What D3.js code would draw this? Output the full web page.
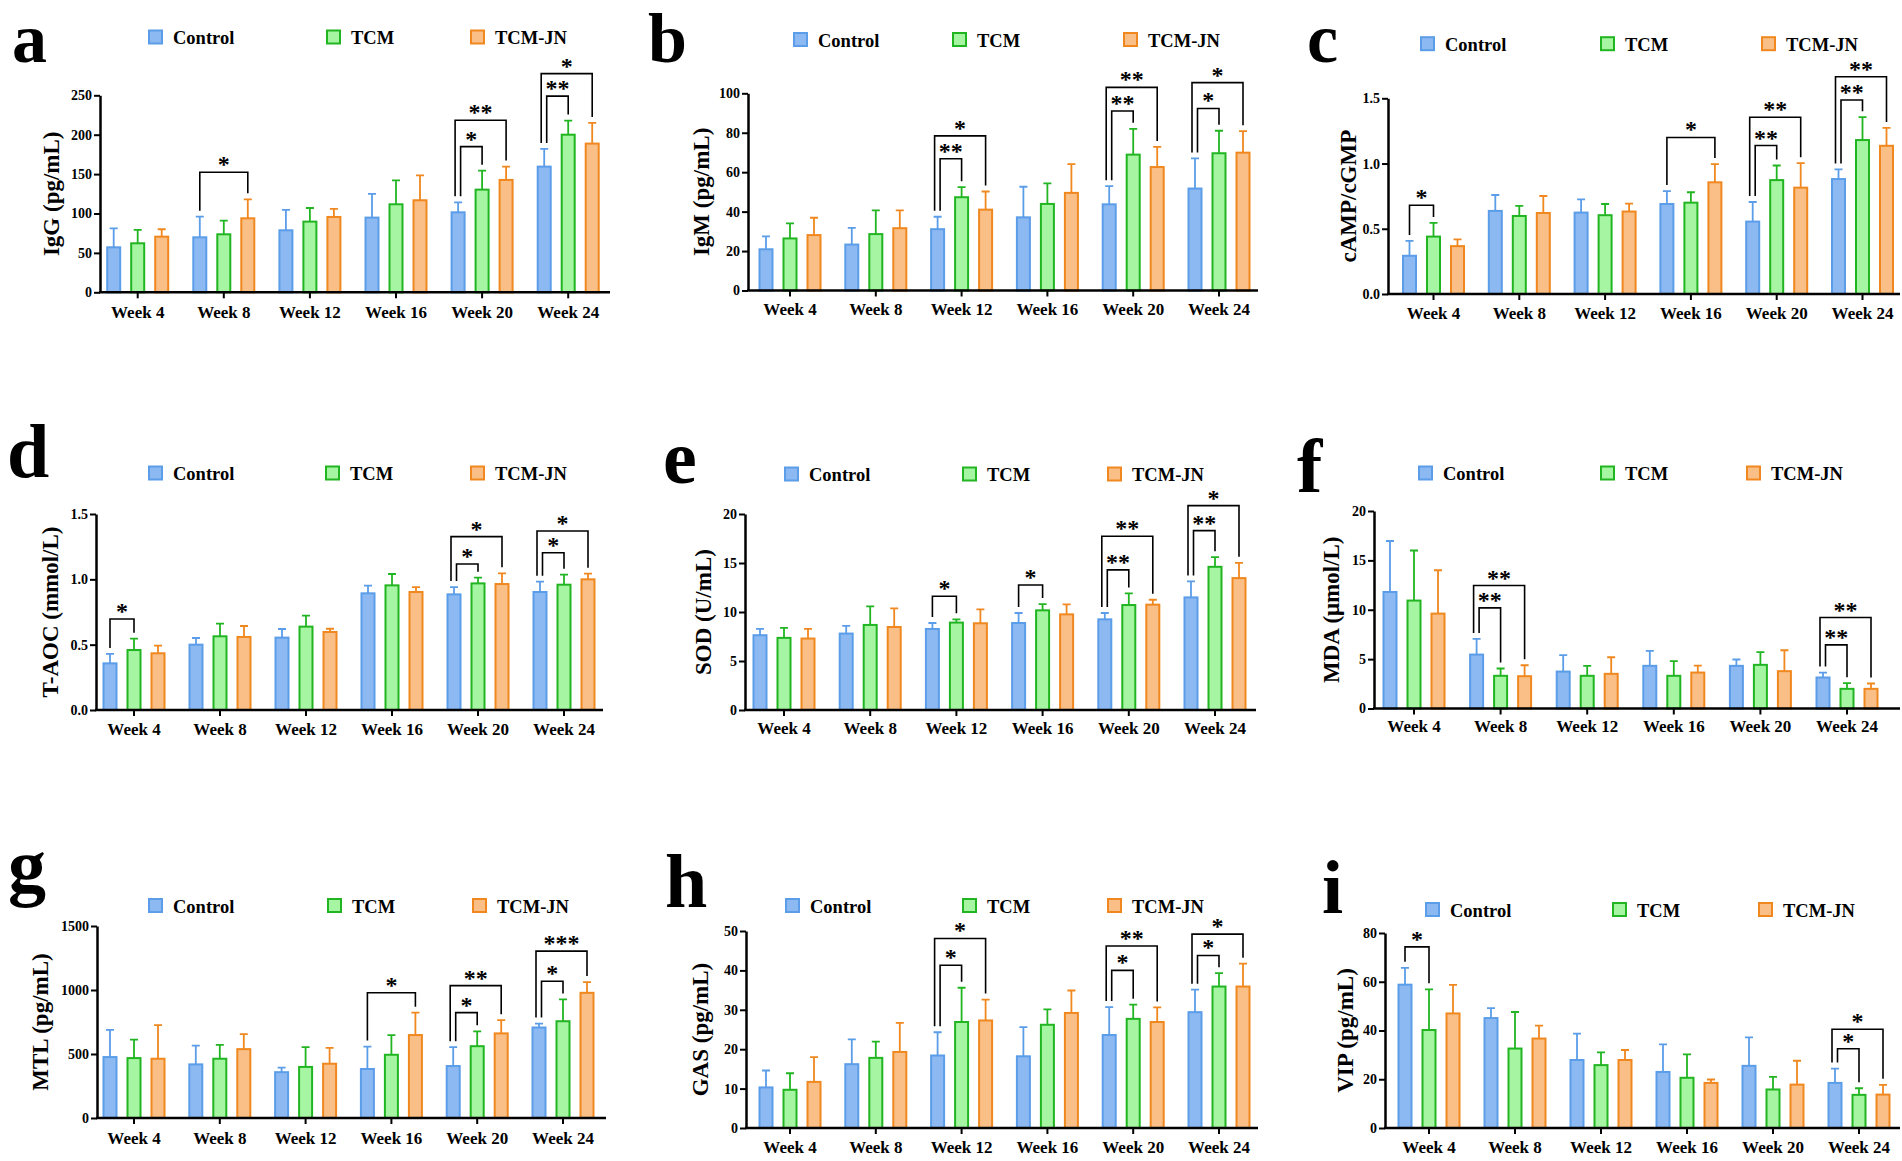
<!DOCTYPE html>
<html>
<head>
<meta charset="utf-8">
<script src="https://cdn.jsdelivr.net/npm/d3@7"></script>
<style>
  body { margin: 0; background: #fff; }
  text { font-family: 'Liberation Serif', 'Times New Roman', serif; font-weight: bold; }
</style>
</head>
<body>
<svg id="chart" width="1902" height="1161"></svg>
<script>
const weeks = ['Week 4', 'Week 8', 'Week 12', 'Week 16', 'Week 20', 'Week 24'];
const groups = ['Control', 'TCM', 'TCM-JN'];

// rows: Control, TCM, TCM-JN ; sig: [week index, compared group, label, bracket height]
const iggMean = [[57.1, 69.8, 78.7, 94.8, 101.5, 159.5], [62.2, 73.6, 89.7, 111.7, 130.3, 200.0], [70.6, 93.9, 95.6, 116.8, 142.6, 188.7]];
const iggSd = [[24.1, 26.2, 25.8, 30.0, 12.7, 22.4], [16.9, 17.3, 17.3, 30.3, 24.1, 17.9], [9.4, 24.1, 10.2, 31.7, 16.9, 26.2]];
const iggSig = [[1, 2, '*', 152.3], [4, 1, '*', 184.9], [4, 2, '**', 218.3], [5, 1, '**', 249], [5, 2, '*', 277.5]];
const iggTicks = [0, 50, 100, 150, 200, 250];

const igmMean = [[20.9, 23.3, 31.1, 37.1, 43.7, 51.7], [26.4, 28.6, 47.3, 43.9, 68.9, 69.6], [28.1, 31.6, 41.0, 49.5, 62.6, 69.9]];
const igmSd = [[6.5, 8.5, 6.3, 15.5, 9.2, 15.3], [7.6, 12.0, 5.1, 10.4, 13.1, 11.4], [8.8, 9.0, 9.2, 14.6, 10.2, 10.9]];
const igmSig = [[2, 1, '**', 66.8], [2, 2, '*', 78.4], [4, 1, '**', 91], [4, 2, '**', 103], [5, 1, '*', 92.3], [5, 2, '*', 105.4]];
const igmTicks = [0, 20, 40, 60, 80, 100];

const campMean = [[0.293, 0.637, 0.624, 0.69, 0.555, 0.881], [0.44, 0.598, 0.604, 0.70, 0.873, 1.18], [0.367, 0.621, 0.632, 0.856, 0.815, 1.136]];
const campSd = [[0.114, 0.122, 0.102, 0.099, 0.15, 0.074], [0.105, 0.077, 0.086, 0.08, 0.112, 0.175], [0.051, 0.13, 0.061, 0.14, 0.188, 0.137]];
const campSig = [[0, 1, '*', 0.68], [3, 2, '*', 1.20], [4, 1, '**', 1.138], [4, 2, '**', 1.355], [5, 1, '**', 1.487], [5, 2, '**', 1.665]];
const campTicks = [0, 0.5, 1.0, 1.5];

const taocMean = [[0.357, 0.50, 0.554, 0.893, 0.885, 0.903], [0.459, 0.564, 0.638, 0.954, 0.969, 0.959], [0.434, 0.559, 0.597, 0.903, 0.964, 1.0]];
const taocSd = [[0.072, 0.051, 0.066, 0.059, 0.056, 0.079], [0.087, 0.097, 0.084, 0.087, 0.044, 0.077], [0.058, 0.084, 0.025, 0.038, 0.082, 0.043]];
const taocSig = [[0, 1, '*', 0.696], [4, 1, '*', 1.117], [4, 2, '*', 1.327], [5, 1, '*', 1.204], [5, 2, '*', 1.37]];
const taocTicks = [0, 0.5, 1.0, 1.5];

const sodMean = [[7.63, 7.80, 8.27, 8.88, 9.25, 11.49], [7.36, 8.68, 8.92, 10.17, 10.71, 14.61], [7.29, 8.47, 8.85, 9.76, 10.75, 13.46]];
const sodSd = [[0.64, 0.78, 0.61, 1.02, 0.65, 1.63], [1.01, 1.9, 0.33, 0.64, 1.19, 0.98], [0.98, 1.9, 1.42, 1.02, 0.5, 1.56]];
const sodSig = [[2, 1, '*', 11.6], [3, 1, '*', 12.75], [4, 1, '**', 14.3], [4, 2, '**', 17.73], [5, 1, '**', 18.3], [5, 2, '*', 20.85]];
const sodTicks = [0, 5, 10, 15, 20];

const mdaMean = [[11.8, 5.46, 3.74, 4.32, 4.32, 3.14], [10.93, 3.31, 3.31, 3.31, 4.42, 1.99], [9.61, 3.27, 3.51, 3.64, 3.78, 1.99]];
const mdaSd = [[5.16, 1.59, 1.66, 1.51, 0.64, 0.5], [5.07, 0.74, 1.01, 1.48, 1.28, 0.57], [4.39, 1.11, 1.68, 0.71, 2.12, 0.54]];
const mdaSig = [[1, 1, '**', 10.19], [1, 2, '**', 12.45], [5, 1, '**', 6.44], [5, 2, '**', 9.21]];
const mdaTicks = [0, 5, 10, 15, 20];

const mtlMean = [[476, 419, 358, 383, 406, 707], [468, 463, 399, 494, 561, 756], [463, 538, 424, 648, 661, 978]];
const mtlSd = [[213, 147, 36, 175, 147, 31], [144, 108, 154, 154, 116, 170], [262, 118, 124, 175, 103, 84]];
const mtlSig = [[3, 2, '*', 978], [4, 1, '*', 823], [4, 2, '**', 1034], [5, 1, '*', 1068], [5, 2, '***', 1304]];
const mtlTicks = [0, 500, 1000, 1500];

const gasMean = [[10.3, 16.2, 18.4, 18.2, 23.6, 29.4], [9.7, 17.8, 26.9, 26.2, 27.7, 35.9], [11.7, 19.3, 27.3, 29.2, 26.9, 35.9]];
const gasSd = [[4.3, 6.3, 5.9, 7.4, 7.1, 5.7], [4.2, 4.1, 8.7, 3.9, 3.6, 3.4], [6.3, 7.4, 5.3, 5.7, 3.7, 5.8]];
const gasSig = [[2, 1, '*', 41.3], [2, 2, '*', 48.1], [4, 1, '*', 40.0], [4, 2, '**', 46.2], [5, 1, '*', 43.8], [5, 2, '*', 49.2]];
const gasTicks = [0, 10, 20, 30, 40, 50];

const vipMean = [[58.8, 45.1, 27.9, 23.0, 25.5, 18.5], [40.2, 32.6, 25.8, 20.6, 15.8, 13.6], [47.0, 36.7, 27.9, 18.5, 17.8, 13.7]];
const vipSd = [[6.9, 4.1, 10.8, 11.3, 11.7, 5.9], [16.7, 15.0, 5.2, 9.6, 5.2, 2.7], [11.7, 5.3, 4.1, 1.4, 9.8, 4.0]];
const vipSig = [[0, 1, '*', 74.3], [5, 1, '*', 32.5], [5, 2, '*', 40.5]];
const vipTicks = [0, 20, 40, 60, 80];

const groupFill = ['#8cb9f2', '#a6f5a2', '#f9bf86'];
const groupStroke = ['#5b9de8', '#22b522', '#f0881f'];

class BarPanel {

    constructor(_config, _data) {
        this.config = _config;
        this.data = _data;
        this.initVis();
    }

    initVis() {
        let vis = this;
        const c = vis.config;

        vis.g = d3.select('#chart').append('g').attr('class', 'panel');

        vis.xScale = d3.scaleBand()
            .domain(weeks)
            .range([c.c0 - c.step / 2, c.c0 + c.step * 5.5]);

        // three bars inside each week
        vis.subScale = d3.scalePoint()
            .domain(groups)
            .range([-24, 24]);

        vis.yScale = d3.scaleLinear()
            .domain([0, d3.max(vis.data.ticks)])
            .range([c.bottom, c.top]);

        vis.yAxis = d3.axisLeft(vis.yScale)
            .tickValues(vis.data.ticks)
            .tickFormat(d3.format(vis.data.fmt))
            .tickSize(6)
            .tickSizeOuter(0);

        vis.xAxis = d3.axisBottom(vis.xScale)
            .tickSize(6)
            .tickSizeOuter(0);

        vis.renderVis();
    }

    renderVis() {
        let vis = this;
        const c = vis.config, d = vis.data;
        const cx = (wi, gi) => vis.xScale(weeks[wi]) + vis.xScale.bandwidth() / 2 + vis.subScale(groups[gi]);

        const rows = weeks.flatMap((w, wi) => groups.map((g, gi) => ({wi, gi, mean: d.mean[gi][wi], sd: d.sd[gi][wi]})));

        vis.g.selectAll('.bar').data(rows).join('rect')
            .attr('class', 'bar')
            .attr('x', r => cx(r.wi, r.gi) - 6.5)
            .attr('width', 13)
            .attr('y', r => vis.yScale(r.mean))
            .attr('height', r => c.bottom - vis.yScale(r.mean))
            .attr('fill', r => groupFill[r.gi])
            .attr('stroke', r => groupStroke[r.gi])
            .attr('stroke-width', 2);

        // upper error bars only
        vis.g.selectAll('.err').data(rows).join('path')
            .attr('class', 'err')
            .attr('d', r => {
                const x = cx(r.wi, r.gi), y0 = vis.yScale(r.mean), y1 = vis.yScale(r.mean + r.sd);
                return `M${x},${y0}V${y1}M${x - 4},${y1}H${x + 4}`;
            })
            .attr('fill', 'none')
            .attr('stroke', r => groupStroke[r.gi])
            .attr('stroke-width', 1.8);

        // axes (font size set after the call, the axis resets it)
        const yAxisG = vis.g.append('g')
            .attr('transform', `translate(${c.ax},0)`)
            .call(vis.yAxis)
            .attr('font-size', 14);
        yAxisG.select('.domain').attr('stroke-width', 2.5);
        yAxisG.selectAll('.tick line').attr('stroke-width', 2);
        yAxisG.selectAll('.tick text').attr('x', -8);

        const xAxisG = vis.g.append('g')
            .attr('transform', `translate(0,${c.bottom})`)
            .call(vis.xAxis)
            .attr('font-size', 17);
        xAxisG.select('.domain').remove();
        xAxisG.selectAll('.tick line').attr('stroke-width', 2);
        xAxisG.selectAll('.tick text').attr('y', c.labelY - c.bottom).attr('dy', null);
        xAxisG.append('line')
            .attr('x1', c.ax - 1).attr('x2', c.xEnd)
            .attr('stroke', '#000').attr('stroke-width', 2.5);

        // significance brackets
        const perWeek = d3.rollup(d.sig, v => v.length, s => s[0]);
        const topOf = (wi, gi) => vis.yScale(d.mean[gi][wi] + d.sd[gi][wi]) - 6;
        const bracket = d.sig.map(([wi, gi, label, h]) => {
            let lx = cx(wi, 0);
            if (perWeek.get(wi) > 1) lx += gi === 1 ? 2.5 : -3;
            const rx = cx(wi, gi);
            return {lx, rx, ly: topOf(wi, 0), ry: topOf(wi, gi), ty: vis.yScale(h), label};
        });

        vis.g.selectAll('.sig').data(bracket).join('path')
            .attr('class', 'sig')
            .attr('d', b => `M${b.lx},${b.ly}V${b.ty}H${b.rx}V${b.ry}`)
            .attr('fill', 'none')
            .attr('stroke', '#000')
            .attr('stroke-width', 1.6);

        vis.g.selectAll('.star').data(bracket).join('text')
            .attr('class', 'star')
            .attr('x', b => (b.lx + b.rx) / 2)
            .attr('y', b => b.ty)
            .attr('text-anchor', 'middle')
            .attr('font-size', 24)
            .text(b => b.label);

        // axis title
        vis.g.append('text')
            .attr('transform', `translate(${c.ax + c.titleDx},${(c.top + c.bottom) / 2}) rotate(-90)`)
            .attr('text-anchor', 'middle')
            .attr('font-size', 23)
            .text(d.title);

        // panel letter
        vis.g.append('text')
            .attr('x', c.letterX).attr('y', c.letterY)
            .attr('font-size', c.letterSize)
            .text(d.letter);

        // legend
        const leg = vis.g.selectAll('.legend').data(groups).join('g')
            .attr('class', 'legend')
            .attr('transform', (g, i) => `translate(${c.legendX[i]},${c.legendY})`);
        leg.append('rect')
            .attr('x', 1).attr('y', -6.5).attr('width', 13).attr('height', 13)
            .attr('fill', (g, i) => groupFill[i])
            .attr('stroke', (g, i) => groupStroke[i])
            .attr('stroke-width', 2);
        leg.append('text')
            .attr('x', 25).attr('y', 7)
            .attr('font-size', 18.5)
            .text(g => g);
    }
}

const layouts = [
    {ax: 100, top: 95.3, bottom: 292.3, c0: 137.7, step: 86.1, xEnd: 610, titleDx: -41, letterX: 12, letterY: 62, letterSize: 70, legendY: 37, legendX: [148, 326, 470], labelY: 318},
    {ax: 748, top: 93.3, bottom: 290.5, c0: 790, step: 85.8, xEnd: 1258, titleDx: -39, letterX: 648, letterY: 62, letterSize: 70, legendY: 39.5, legendX: [793, 952, 1123], labelY: 315},
    {ax: 1388, top: 98.3, bottom: 294, c0: 1433.5, step: 85.8, xEnd: 1900, titleDx: -32, letterX: 1307, letterY: 62, letterSize: 70, legendY: 43.7, legendX: [1420, 1600, 1761], labelY: 319},
    {ax: 96, top: 514, bottom: 710, c0: 134, step: 86, xEnd: 603, titleDx: -38, letterX: 7, letterY: 477, letterSize: 76, legendY: 473, legendX: [148, 325, 470], labelY: 735},
    {ax: 745, top: 514, bottom: 710, c0: 784, step: 86.2, xEnd: 1256, titleDx: -34, letterX: 663, letterY: 483, letterSize: 76, legendY: 474, legendX: [784, 962, 1107], labelY: 734},
    {ax: 1374, top: 511, bottom: 708.5, c0: 1414, step: 86.6, xEnd: 1900, titleDx: -35, letterX: 1297, letterY: 492, letterSize: 76, legendY: 473, legendX: [1418, 1600, 1746], labelY: 732},
    {ax: 97, top: 926, bottom: 1118, c0: 134, step: 85.8, xEnd: 606, titleDx: -49, letterX: 8, letterY: 892, letterSize: 76, legendY: 905.5, legendX: [148, 327, 472], labelY: 1144},
    {ax: 746, top: 931, bottom: 1128, c0: 790, step: 85.8, xEnd: 1258, titleDx: -38, letterX: 665, letterY: 907, letterSize: 76, legendY: 905.5, legendX: [785, 962, 1107], labelY: 1153},
    {ax: 1385, top: 933, bottom: 1128, c0: 1429, step: 86, xEnd: 1900, titleDx: -32, letterX: 1322, letterY: 913, letterSize: 76, legendY: 909.5, legendX: [1425, 1612, 1758], labelY: 1153}
];

const panelData = [
    {letter: 'a', title: 'IgG (pg/mL)', mean: iggMean, sd: iggSd, sig: iggSig, ticks: iggTicks, fmt: 'd'},
    {letter: 'b', title: 'IgM (pg/mL)', mean: igmMean, sd: igmSd, sig: igmSig, ticks: igmTicks, fmt: 'd'},
    {letter: 'c', title: 'cAMP/cGMP', mean: campMean, sd: campSd, sig: campSig, ticks: campTicks, fmt: '.1f'},
    {letter: 'd', title: 'T-AOC (mmol/L)', mean: taocMean, sd: taocSd, sig: taocSig, ticks: taocTicks, fmt: '.1f'},
    {letter: 'e', title: 'SOD (U/mL)', mean: sodMean, sd: sodSd, sig: sodSig, ticks: sodTicks, fmt: 'd'},
    {letter: 'f', title: 'MDA (μmol/L)', mean: mdaMean, sd: mdaSd, sig: mdaSig, ticks: mdaTicks, fmt: 'd'},
    {letter: 'g', title: 'MTL (pg/mL)', mean: mtlMean, sd: mtlSd, sig: mtlSig, ticks: mtlTicks, fmt: 'd'},
    {letter: 'h', title: 'GAS (pg/mL)', mean: gasMean, sd: gasSd, sig: gasSig, ticks: gasTicks, fmt: 'd'},
    {letter: 'i', title: 'VIP (pg/mL)', mean: vipMean, sd: vipSd, sig: vipSig, ticks: vipTicks, fmt: 'd'}
];

layouts.forEach((l, i) => new BarPanel(l, panelData[i]));
</script>
</body>
</html>
